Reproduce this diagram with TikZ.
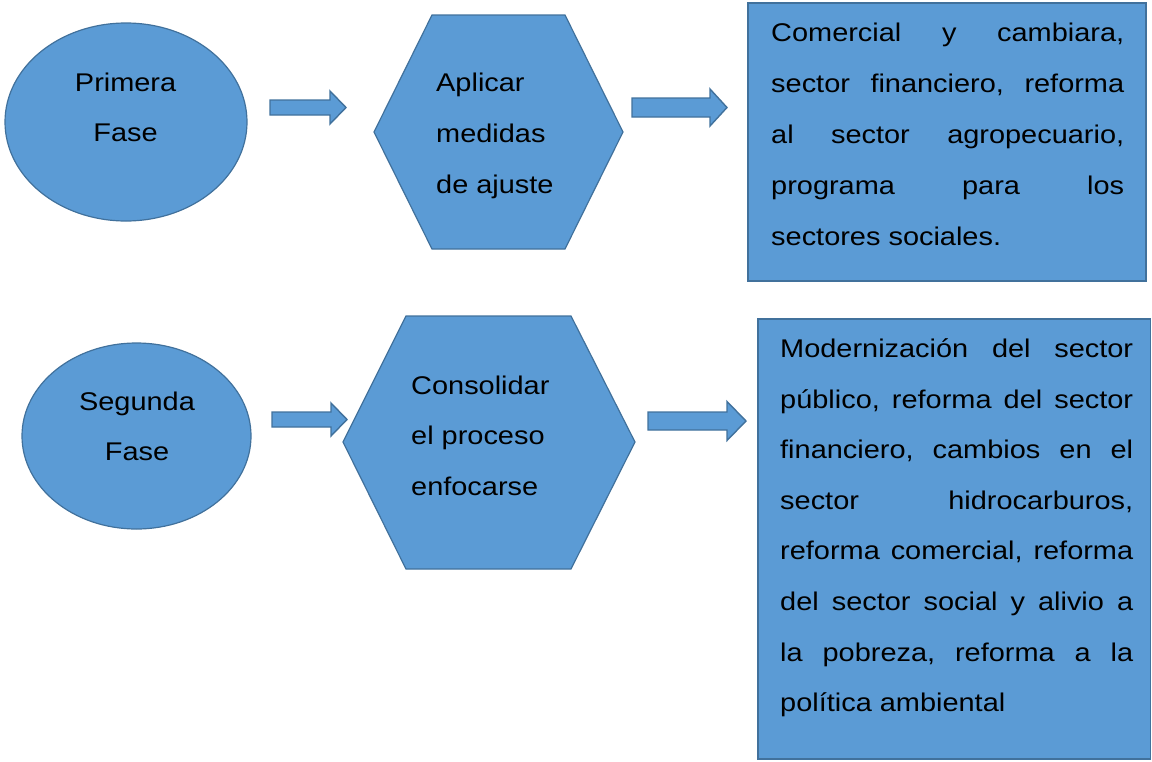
\documentclass[tikz,border=0pt]{standalone}
\usepackage{fontspec}
\setmainfont[FakeStretch=1.13]{Liberation Sans}
\definecolor{boxfill}{HTML}{5B9BD5}
\definecolor{boxline}{HTML}{41719C}
\tikzset{
  shapebox/.style={fill=boxfill, draw=boxline, line width=1.2pt, line join=miter},
  rectbox/.style={fill=boxfill, draw=boxline, line width=1.8pt},
  arr/.style={fill=boxfill, draw=boxline, line width=1.4pt, line join=miter},
  txt/.style={inner sep=0pt, anchor=base west, font=\fontsize{25.6}{50.8}\selectfont},
  ctxt/.style={inner sep=0pt, anchor=base, font=\fontsize{25.6}{50.8}\selectfont}
}
\newcommand\blockarr[6]{%
  \draw[arr] ({#1},{#4-#5}) -- ({#2},{#4-#5}) -- ({#2},{#4-#6}) -- ({#3},{#4})
    -- ({#2},{#4+#6}) -- ({#2},{#4+#5}) -- ({#1},{#4+#5}) -- cycle;}
\begin{document}
\begin{tikzpicture}[x=1pt,y=-1pt]
\useasboundingbox (0,0) rectangle (1152,761);
% ---- row 1 ----
\draw[shapebox] (126,122) ellipse [x radius=121, y radius=99];
\node[ctxt] (e1) at (125.6,91) {\parbox[t]{200pt}{\centering Primera\\Fase}};
\blockarr{270}{330}{346}{107.5}{7.5}{16.5}
\draw[shapebox] (432,15) -- (565,15) -- (623,132) -- (565,249) -- (432,249) -- (374,132) -- cycle;
\node[txt] (h1) at (436,91.5) {\parbox[t]{180pt}{\raggedright Aplicar\\medidas\\de ajuste}};
\blockarr{632}{710}{727}{107.5}{9.5}{18.5}
\draw[rectbox] (748,3) rectangle (1146,281);
\node[txt] (r1) at (771,41.5) {\parbox[t]{353pt}{\fontsize{25.6}{51}\selectfont
Comercial\hfill y\hfill cambiara,\\
sector\hfill financiero,\hfill reforma\\
al\hfill sector\hfill agropecuario,\\
programa\hfill para\hfill los\\
sectores sociales.}};
% ---- row 2 ----
\draw[shapebox] (136.5,436) ellipse [x radius=114.5, y radius=93];
\node[ctxt] (e2) at (137,410) {\parbox[t]{200pt}{\centering Segunda\\Fase}};
\blockarr{272}{331}{347}{419.5}{7.5}{16.5}
\draw[shapebox] (406,316) -- (571,316) -- (635,442) -- (571,569) -- (406,569) -- (343,442) -- cycle;
\node[txt] (h2) at (411,394) {\parbox[t]{200pt}{\raggedright Consolidar\\el proceso\\enfocarse}};
\blockarr{648}{727}{746}{421}{9}{19.5}
\draw[rectbox] (758,319) rectangle (1150.5,759);
\node[txt] (r2) at (780,357.5) {\parbox[t]{353pt}{\fontsize{25.6}{50.6}\selectfont
Modernización\hfill del\hfill sector\\
público,\hfill reforma\hfill del\hfill sector\\
financiero,\hfill cambios\hfill en\hfill el\\
sector\hfill hidrocarburos,\\
reforma\hfill comercial,\hfill reforma\\
del\hfill sector\hfill social\hfill y\hfill alivio\hfill a\\
la\hfill pobreza,\hfill reforma\hfill a\hfill la\\
política ambiental}};
\end{tikzpicture}
\end{document}
